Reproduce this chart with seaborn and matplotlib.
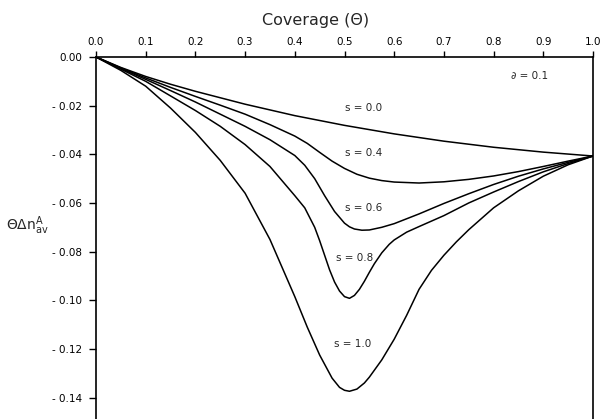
import numpy as np
import pandas as pd
import matplotlib
matplotlib.use("Agg")
import matplotlib.pyplot as plt
import seaborn as sns

# curves: theta -> theta * delta n_av^A
theta_s00 = [0.0, 0.05, 0.1, 0.15, 0.2, 0.3, 0.4, 0.5, 0.6, 0.7, 0.8, 0.9, 1.0]
val_s00 = [0.0, -0.0043, -0.0080, -0.0112, -0.0141, -0.0194, -0.0241, -0.0281,
           -0.0316, -0.0346, -0.0371, -0.0391, -0.0407]

theta_s04 = [0.0, 0.05, 0.1, 0.15, 0.2, 0.25, 0.3, 0.35, 0.4, 0.425, 0.45, 0.475,
             0.5, 0.525, 0.55, 0.575, 0.6, 0.65, 0.7, 0.75, 0.8, 0.85, 0.9, 0.95, 1.0]
val_s04 = [0.0, -0.0045, -0.0086, -0.0125, -0.0162, -0.0198, -0.0235, -0.0278,
           -0.0325, -0.0355, -0.0392, -0.0428, -0.0458, -0.0482, -0.0498,
           -0.0508, -0.0514, -0.0518, -0.0513, -0.0503, -0.0489, -0.0471,
           -0.0450, -0.0428, -0.0407]

theta_s06 = [0.0, 0.05, 0.1, 0.15, 0.2, 0.25, 0.3, 0.35, 0.4, 0.42, 0.44, 0.46,
             0.48, 0.5, 0.51, 0.52, 0.535, 0.55, 0.575, 0.6, 0.65, 0.7, 0.75,
             0.8, 0.85, 0.9, 0.95, 1.0]
val_s06 = [0.0, -0.0047, -0.0092, -0.0138, -0.0185, -0.0235, -0.0285, -0.0340,
           -0.0405, -0.0445, -0.0500, -0.0570, -0.0635, -0.0683, -0.0698,
           -0.0707, -0.0712, -0.0711, -0.0700, -0.0685, -0.0645, -0.0602,
           -0.0562, -0.0524, -0.0490, -0.0460, -0.0433, -0.0407]

theta_s08 = [0.0, 0.05, 0.1, 0.15, 0.2, 0.25, 0.3, 0.35, 0.4, 0.42, 0.44, 0.45,
             0.46, 0.47, 0.48, 0.49, 0.5, 0.51, 0.52, 0.53, 0.54, 0.55, 0.56,
             0.575, 0.59, 0.6, 0.625, 0.65, 0.7, 0.75, 0.8, 0.85, 0.9, 0.95, 1.0]
val_s08 = [0.0, -0.0050, -0.0100, -0.0160, -0.0220, -0.0285, -0.0360, -0.0450,
           -0.0570, -0.0620, -0.0700, -0.0755, -0.0815, -0.0875, -0.0925,
           -0.0962, -0.0985, -0.0992, -0.0980, -0.0955, -0.0922, -0.0885,
           -0.0850, -0.0805, -0.0770, -0.0752, -0.0720, -0.0697, -0.0652,
           -0.0600, -0.0555, -0.0512, -0.0472, -0.0438, -0.0407]

theta_s10 = [0.0, 0.05, 0.1, 0.15, 0.2, 0.25, 0.3, 0.35, 0.4, 0.425, 0.45, 0.475,
             0.49, 0.5, 0.51, 0.525, 0.54, 0.55, 0.575, 0.6, 0.625, 0.65, 0.675,
             0.7, 0.725, 0.75, 0.8, 0.85, 0.9, 0.95, 1.0]
val_s10 = [0.0, -0.0055, -0.0120, -0.0210, -0.0310, -0.0425, -0.0560, -0.0750,
           -0.0985, -0.1110, -0.1225, -0.1320, -0.1358, -0.1370, -0.1374,
           -0.1365, -0.1340, -0.1316, -0.1245, -0.1160, -0.1062, -0.0955,
           -0.0877, -0.0815, -0.0760, -0.0710, -0.0620, -0.0550, -0.0490,
           -0.0443, -0.0407]

curve_names = ["s = 0.0", "s = 0.4", "s = 0.6", "s = 0.8", "s = 1.0"]
label_x = [0.539, 0.538, 0.539, 0.520, 0.517]
label_y = [-0.0210, -0.0393, -0.0620, -0.0826, -0.1180]

x_ticks = [0.0, 0.1, 0.2, 0.3, 0.4, 0.5, 0.6, 0.7, 0.8, 0.9, 1.0]
x_ticklabels = ["0.0", "0.1", "0.2", "0.3", "0.4", "0.5", "0.6", "0.7", "0.8", "0.9", "1.0"]
y_ticks = [0.0, -0.02, -0.04, -0.06, -0.08, -0.10, -0.12, -0.14]
y_ticklabels = ["0.00", "- 0.02", "- 0.04", "- 0.06", "- 0.08", "- 0.10", "- 0.12", "- 0.14"]

frames = []
for name, xs, ys in zip(curve_names,
                        [theta_s00, theta_s04, theta_s06, theta_s08, theta_s10],
                        [val_s00, val_s04, val_s06, val_s08, val_s10]):
    frames.append(pd.DataFrame({"theta": xs, "value": ys, "curve": name}))
df = pd.concat(frames, ignore_index=True)

sns.set_style("ticks")
plt.rcParams["font.family"] = ["DejaVu Sans"]
plt.rcParams["mathtext.fontset"] = "dejavusans"

fig = plt.figure(figsize=(6.02, 4.19), dpi=100)
ax = fig.add_axes([96 / 602, 0.0, 497 / 602, 362 / 419])

sns.lineplot(data=df, x="theta", y="value", units="curve", estimator=None,
             sort=False, color="black", linewidth=1.1, ax=ax)

ax.set_xlim(0, 1)
ax.set_ylim(-0.1488, 0)

ax.xaxis.tick_top()
ax.xaxis.set_label_position("top")
ax.set_xticks(x_ticks)
ax.set_xticklabels(x_ticklabels, fontsize=7.5)
ax.set_yticks(y_ticks)
ax.set_yticklabels(y_ticklabels, fontsize=7.5)
ax.tick_params(axis="x", direction="out", length=4, width=1, pad=3, colors="black")
ax.tick_params(axis="y", direction="out", length=5, width=1, pad=5, colors="black")
ax.set_xlabel("")
ax.set_ylabel("")

ax.spines["bottom"].set_visible(False)
for side in ["top", "left", "right"]:
    ax.spines[side].set_visible(True)
    ax.spines[side].set_linewidth(1.2)
    ax.spines[side].set_color("black")

for name, lx, ly in zip(curve_names, label_x, label_y):
    ax.text(lx, ly, name, fontsize=7.5, ha="center", va="center")
ax.text(0.873, -0.0078, "\u2202 = 0.1", fontsize=7.5, ha="center", va="center")

fig.text(316 / 602, 1 - 21 / 419, "Coverage (\u0398)", fontsize=11.5, ha="center", va="center")
fig.text(27 / 602, 1 - 226 / 419, r"$\mathrm{\Theta\Delta n}^{\mathrm{A}}_{\mathrm{av}}$",
         fontsize=10, ha="center", va="center")

fig.savefig("out.png", dpi=100)
